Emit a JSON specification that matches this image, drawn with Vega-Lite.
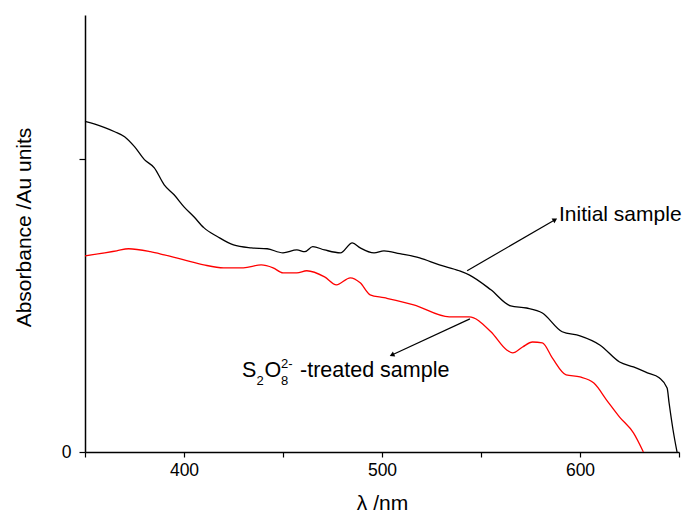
{
  "$schema": "https://vega.github.io/schema/vega-lite/v6.json",
  "width": 594,
  "height": 437,
  "autosize": "none",
  "padding": {"left": 85, "top": 15, "right": 5, "bottom": 63},
  "background": "white",
  "config": {
    "view": {"stroke": null},
    "font": "Liberation Sans",
    "axis": {
      "grid": false,
      "domainColor": "black",
      "domainWidth": 1.5,
      "tickColor": "black",
      "tickWidth": 1.2,
      "tickSize": 5,
      "labelColor": "black",
      "labelFont": "Liberation Sans",
      "labelFontSize": 17.5,
      "titleFont": "Liberation Sans",
      "titleFontSize": 21,
      "titleFontWeight": "normal",
      "titleColor": "black"
    }
  },
  "datasets": {
    "spectra": [
      {"series": "Initial sample", "wl": 350, "abs": 1.127},
      {"series": "Initial sample", "wl": 355, "abs": 1.118},
      {"series": "Initial sample", "wl": 360, "abs": 1.106},
      {"series": "Initial sample", "wl": 365, "abs": 1.092},
      {"series": "Initial sample", "wl": 370, "abs": 1.075},
      {"series": "Initial sample", "wl": 375, "abs": 1.041},
      {"series": "Initial sample", "wl": 380, "abs": 0.997},
      {"series": "Initial sample", "wl": 385, "abs": 0.969},
      {"series": "Initial sample", "wl": 390, "abs": 0.911},
      {"series": "Initial sample", "wl": 395, "abs": 0.877},
      {"series": "Initial sample", "wl": 400, "abs": 0.836},
      {"series": "Initial sample", "wl": 405, "abs": 0.802},
      {"series": "Initial sample", "wl": 410, "abs": 0.765},
      {"series": "Initial sample", "wl": 417, "abs": 0.734},
      {"series": "Initial sample", "wl": 425, "abs": 0.706},
      {"series": "Initial sample", "wl": 434, "abs": 0.696},
      {"series": "Initial sample", "wl": 442, "abs": 0.693},
      {"series": "Initial sample", "wl": 450, "abs": 0.679},
      {"series": "Initial sample", "wl": 457, "abs": 0.689},
      {"series": "Initial sample", "wl": 461, "abs": 0.683},
      {"series": "Initial sample", "wl": 465, "abs": 0.700},
      {"series": "Initial sample", "wl": 471, "abs": 0.689},
      {"series": "Initial sample", "wl": 479, "abs": 0.679},
      {"series": "Initial sample", "wl": 485, "abs": 0.713},
      {"series": "Initial sample", "wl": 489, "abs": 0.696},
      {"series": "Initial sample", "wl": 496, "abs": 0.679},
      {"series": "Initial sample", "wl": 501, "abs": 0.686},
      {"series": "Initial sample", "wl": 509, "abs": 0.676},
      {"series": "Initial sample", "wl": 519, "abs": 0.662},
      {"series": "Initial sample", "wl": 529, "abs": 0.638},
      {"series": "Initial sample", "wl": 539, "abs": 0.618},
      {"series": "Initial sample", "wl": 544, "abs": 0.604},
      {"series": "Initial sample", "wl": 555, "abs": 0.553},
      {"series": "Initial sample", "wl": 565, "abs": 0.498},
      {"series": "Initial sample", "wl": 573, "abs": 0.491},
      {"series": "Initial sample", "wl": 581, "abs": 0.474},
      {"series": "Initial sample", "wl": 591, "abs": 0.410},
      {"series": "Initial sample", "wl": 600, "abs": 0.396},
      {"series": "Initial sample", "wl": 610, "abs": 0.365},
      {"series": "Initial sample", "wl": 620, "abs": 0.307},
      {"series": "Initial sample", "wl": 627, "abs": 0.290},
      {"series": "Initial sample", "wl": 634, "abs": 0.270},
      {"series": "Initial sample", "wl": 640, "abs": 0.253},
      {"series": "Initial sample", "wl": 644, "abs": 0.218},
      {"series": "Initial sample", "wl": 645, "abs": 0.167},
      {"series": "Initial sample", "wl": 647, "abs": 0.075},
      {"series": "Initial sample", "wl": 649, "abs": 0.0},
      {"series": "Treated sample", "wl": 350, "abs": 0.669},
      {"series": "Treated sample", "wl": 360, "abs": 0.679},
      {"series": "Treated sample", "wl": 366, "abs": 0.686},
      {"series": "Treated sample", "wl": 372, "abs": 0.693},
      {"series": "Treated sample", "wl": 383, "abs": 0.683},
      {"series": "Treated sample", "wl": 390, "abs": 0.672},
      {"series": "Treated sample", "wl": 400, "abs": 0.655},
      {"series": "Treated sample", "wl": 410, "abs": 0.638},
      {"series": "Treated sample", "wl": 420, "abs": 0.628},
      {"series": "Treated sample", "wl": 430, "abs": 0.628},
      {"series": "Treated sample", "wl": 439, "abs": 0.638},
      {"series": "Treated sample", "wl": 445, "abs": 0.628},
      {"series": "Treated sample", "wl": 450, "abs": 0.611},
      {"series": "Treated sample", "wl": 457, "abs": 0.611},
      {"series": "Treated sample", "wl": 462, "abs": 0.618},
      {"series": "Treated sample", "wl": 471, "abs": 0.597},
      {"series": "Treated sample", "wl": 477, "abs": 0.570},
      {"series": "Treated sample", "wl": 484, "abs": 0.594},
      {"series": "Treated sample", "wl": 489, "abs": 0.577},
      {"series": "Treated sample", "wl": 494, "abs": 0.536},
      {"series": "Treated sample", "wl": 501, "abs": 0.526},
      {"series": "Treated sample", "wl": 516, "abs": 0.502},
      {"series": "Treated sample", "wl": 534, "abs": 0.461},
      {"series": "Treated sample", "wl": 544, "abs": 0.461},
      {"series": "Treated sample", "wl": 555, "abs": 0.410},
      {"series": "Treated sample", "wl": 563, "abs": 0.348},
      {"series": "Treated sample", "wl": 566, "abs": 0.338},
      {"series": "Treated sample", "wl": 571, "abs": 0.358},
      {"series": "Treated sample", "wl": 576, "abs": 0.375},
      {"series": "Treated sample", "wl": 581, "abs": 0.372},
      {"series": "Treated sample", "wl": 586, "abs": 0.321},
      {"series": "Treated sample", "wl": 593, "abs": 0.263},
      {"series": "Treated sample", "wl": 600, "abs": 0.256},
      {"series": "Treated sample", "wl": 607, "abs": 0.235},
      {"series": "Treated sample", "wl": 614, "abs": 0.172},
      {"series": "Treated sample", "wl": 620, "abs": 0.119},
      {"series": "Treated sample", "wl": 627, "abs": 0.065},
      {"series": "Treated sample", "wl": 632, "abs": 0.0}
    ],
    "arrows": [
      {"name": "initial", "x1": 543, "y1": 0.618, "x2": 587.4, "y2": 0.792},
      {"name": "treated", "x1": 544.4, "y1": 0.454, "x2": 505, "y2": 0.331}
    ]
  },
  "layer": [
    {
      "data": {"name": "spectra"},
      "mark": {"type": "line", "strokeWidth": 1.3, "interpolate": "monotone"},
      "encoding": {
        "x": {
          "field": "wl", "type": "quantitative",
          "scale": {"domain": [350, 650], "nice": false, "zero": false},
          "axis": {
            "title": "λ /nm",
            "values": [350, 400, 450, 500, 550, 600, 650],
            "labelExpr": "(datum.value == 400 || datum.value == 500 || datum.value == 600) ? datum.label : ''",
            "labelPadding": 4,
            "titleX": 297,
            "titleY": 51,
            "titleBaseline": "middle"
          }
        },
        "y": {
          "field": "abs", "type": "quantitative",
          "scale": {"domain": [0, 1.49], "nice": false},
          "axis": {
            "title": "Absorbance /Au units",
            "values": [0, 1],
            "labelExpr": "datum.value == 0 ? '0' : ''",
            "tickSize": 6,
            "labelPadding": 8,
            "titleX": -61,
            "titleY": 212,
            "titleBaseline": "middle",
            "titleAngle": -90
          }
        },
        "color": {
          "field": "series", "type": "nominal",
          "scale": {"domain": ["Initial sample", "Treated sample"], "range": ["#000000", "#ff0000"]},
          "legend": null
        },
        "detail": {"field": "series"}
      }
    },
    {
      "data": {"name": "arrows"},
      "mark": {"type": "rule", "color": "black", "strokeWidth": 1.2},
      "encoding": {
        "x": {"field": "x1", "type": "quantitative"},
        "y": {"field": "y1", "type": "quantitative"},
        "x2": {"field": "x2"},
        "y2": {"field": "y2"}
      }
    },
    {
      "data": {"name": "arrows"},
      "transform": [{"filter": "datum.name == 'initial'"}],
      "mark": {"type": "point", "shape": "triangle-up", "filled": true, "color": "black", "size": 30, "angle": 59, "opacity": 1},
      "encoding": {
        "x": {"field": "x2", "type": "quantitative"},
        "y": {"field": "y2", "type": "quantitative"}
      }
    },
    {
      "data": {"name": "arrows"},
      "transform": [{"filter": "datum.name == 'treated'"}],
      "mark": {"type": "point", "shape": "triangle-up", "filled": true, "color": "black", "size": 30, "angle": 245, "opacity": 1},
      "encoding": {
        "x": {"field": "x2", "type": "quantitative"},
        "y": {"field": "y2", "type": "quantitative"}
      }
    },
    {
      "data": {"values": [
        {"t": "Initial sample", "x": 589.4, "y": 0.787}
      ]},
      "mark": {"type": "text", "align": "left", "baseline": "alphabetic", "fontSize": 21, "font": "Liberation Sans", "color": "black"},
      "encoding": {
        "x": {"field": "x", "type": "quantitative"},
        "y": {"field": "y", "type": "quantitative"},
        "text": {"field": "t"}
      }
    },
    {
      "data": {"values": [
        {"t": "S", "x": 429.3, "y": 0.256},
        {"t": "O", "x": 440.6, "y": 0.256},
        {"t": "-treated sample", "x": 458.6, "y": 0.256}
      ]},
      "mark": {"type": "text", "align": "left", "baseline": "alphabetic", "fontSize": 21.5, "font": "Liberation Sans", "color": "black"},
      "encoding": {
        "x": {"field": "x", "type": "quantitative"},
        "y": {"field": "y", "type": "quantitative"},
        "text": {"field": "t"}
      }
    },
    {
      "data": {"values": [
        {"t": "2", "x": 436.6, "y": 0.2287},
        {"t": "8", "x": 449.0, "y": 0.2287},
        {"t": "2-", "x": 449.0, "y": 0.2867}
      ]},
      "mark": {"type": "text", "align": "left", "baseline": "alphabetic", "fontSize": 13, "font": "Liberation Sans", "color": "black"},
      "encoding": {
        "x": {"field": "x", "type": "quantitative"},
        "y": {"field": "y", "type": "quantitative"},
        "text": {"field": "t"}
      }
    }
  ]
}
